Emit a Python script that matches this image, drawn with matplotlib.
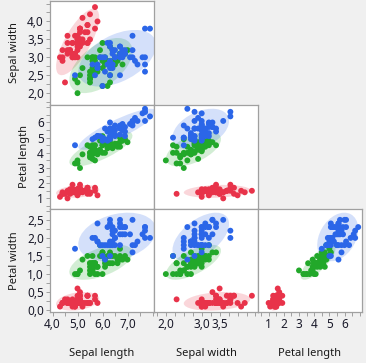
import numpy as np
import matplotlib.pyplot as plt
from matplotlib.patches import Ellipse
from matplotlib.ticker import FuncFormatter, FixedLocator, MultipleLocator

plt.rcParams['font.family'] = ['Noto Sans', 'DejaVu Sans']

# Iris data, 50 rows per species: setosa, versicolor, virginica
sepal_length = [
    5.1, 4.9, 4.7, 4.6, 5.0, 5.4, 4.6, 5.0, 4.4, 4.9, 5.4, 4.8, 4.8, 4.3, 5.8, 5.7, 5.4, 5.1, 5.7, 5.1, 5.4, 5.1, 4.6, 5.1, 4.8,
    5.0, 5.0, 5.2, 5.2, 4.7, 4.8, 5.4, 5.2, 5.5, 4.9, 5.0, 5.5, 4.9, 4.4, 5.1, 5.0, 4.5, 4.4, 5.0, 5.1, 4.8, 5.1, 4.6, 5.3, 5.0,
    7.0, 6.4, 6.9, 5.5, 6.5, 5.7, 6.3, 4.9, 6.6, 5.2, 5.0, 5.9, 6.0, 6.1, 5.6, 6.7, 5.6, 5.8, 6.2, 5.6, 5.9, 6.1, 6.3, 6.1, 6.4,
    6.6, 6.8, 6.7, 6.0, 5.7, 5.5, 5.5, 5.8, 6.0, 5.4, 6.0, 6.7, 6.3, 5.6, 5.5, 5.5, 6.1, 5.8, 5.0, 5.6, 5.7, 5.7, 6.2, 5.1, 5.7,
    6.3, 5.8, 7.1, 6.3, 6.5, 7.6, 4.9, 7.3, 6.7, 7.2, 6.5, 6.4, 6.8, 5.7, 5.8, 6.4, 6.5, 7.7, 7.7, 6.0, 6.9, 5.6, 7.7, 6.3, 6.7,
    7.2, 6.2, 6.1, 6.4, 7.2, 7.4, 7.9, 6.4, 6.3, 6.1, 7.7, 6.3, 6.4, 6.0, 6.9, 6.7, 6.9, 5.8, 6.8, 6.7, 6.7, 6.3, 6.5, 6.2, 5.9]
sepal_width = [
    3.5, 3.0, 3.2, 3.1, 3.6, 3.9, 3.4, 3.4, 2.9, 3.1, 3.7, 3.4, 3.0, 3.0, 4.0, 4.4, 3.9, 3.5, 3.8, 3.8, 3.4, 3.7, 3.6, 3.3, 3.4,
    3.0, 3.4, 3.5, 3.4, 3.2, 3.1, 3.4, 4.1, 4.2, 3.1, 3.2, 3.5, 3.6, 3.0, 3.4, 3.5, 2.3, 3.2, 3.5, 3.8, 3.0, 3.8, 3.2, 3.7, 3.3,
    3.2, 3.2, 3.1, 2.3, 2.8, 2.8, 3.3, 2.4, 2.9, 2.7, 2.0, 3.0, 2.2, 2.9, 2.9, 3.1, 3.0, 2.7, 2.2, 2.5, 3.2, 2.8, 2.5, 2.8, 2.9,
    3.0, 2.8, 3.0, 2.9, 2.6, 2.4, 2.4, 2.7, 2.7, 3.0, 3.4, 3.1, 2.3, 3.0, 2.5, 2.6, 3.0, 2.6, 2.3, 2.7, 3.0, 2.9, 2.9, 2.5, 2.8,
    3.3, 2.7, 3.0, 2.9, 3.0, 3.0, 2.5, 2.9, 2.5, 3.6, 3.2, 2.7, 3.0, 2.5, 2.8, 3.2, 3.0, 3.8, 2.6, 2.2, 3.2, 2.8, 2.8, 2.7, 3.3,
    3.2, 2.8, 3.0, 2.8, 3.0, 2.8, 3.8, 2.8, 2.8, 2.6, 3.0, 3.4, 3.1, 3.0, 3.1, 3.1, 3.1, 2.7, 3.2, 3.3, 3.0, 2.5, 3.0, 3.4, 3.0]
petal_length = [
    1.4, 1.4, 1.3, 1.5, 1.4, 1.7, 1.4, 1.5, 1.4, 1.5, 1.5, 1.6, 1.4, 1.1, 1.2, 1.5, 1.3, 1.4, 1.7, 1.5, 1.7, 1.5, 1.0, 1.7, 1.9,
    1.6, 1.6, 1.5, 1.4, 1.6, 1.6, 1.5, 1.5, 1.4, 1.5, 1.2, 1.3, 1.4, 1.3, 1.5, 1.3, 1.3, 1.3, 1.6, 1.9, 1.4, 1.6, 1.4, 1.5, 1.4,
    4.7, 4.5, 4.9, 4.0, 4.6, 4.5, 4.7, 3.3, 4.6, 3.9, 3.5, 4.2, 4.0, 4.7, 3.6, 4.4, 4.5, 4.1, 4.5, 3.9, 4.8, 4.0, 4.9, 4.7, 4.3,
    4.4, 4.8, 5.0, 4.5, 3.5, 3.8, 3.7, 3.9, 5.1, 4.5, 4.5, 4.7, 4.4, 4.1, 4.0, 4.4, 4.6, 4.0, 3.3, 4.2, 4.2, 4.2, 4.3, 3.0, 4.1,
    6.0, 5.1, 5.9, 5.6, 5.8, 6.6, 4.5, 6.3, 5.8, 6.1, 5.1, 5.3, 5.5, 5.0, 5.1, 5.3, 5.5, 6.7, 6.9, 5.0, 5.7, 4.9, 6.7, 4.9, 5.7,
    6.0, 4.8, 4.9, 5.6, 5.8, 6.1, 6.4, 5.6, 5.1, 5.6, 6.1, 5.6, 5.5, 4.8, 5.4, 5.6, 5.1, 5.1, 5.9, 5.7, 5.2, 5.0, 5.2, 5.4, 5.1]
petal_width = [
    0.2, 0.2, 0.2, 0.2, 0.2, 0.4, 0.3, 0.2, 0.2, 0.1, 0.2, 0.2, 0.1, 0.1, 0.2, 0.4, 0.4, 0.3, 0.3, 0.3, 0.2, 0.4, 0.2, 0.5, 0.2,
    0.2, 0.4, 0.2, 0.2, 0.2, 0.2, 0.4, 0.1, 0.2, 0.2, 0.2, 0.2, 0.1, 0.2, 0.2, 0.3, 0.3, 0.2, 0.6, 0.4, 0.3, 0.2, 0.2, 0.2, 0.2,
    1.4, 1.5, 1.5, 1.3, 1.5, 1.3, 1.6, 1.0, 1.3, 1.4, 1.0, 1.5, 1.0, 1.4, 1.3, 1.4, 1.5, 1.0, 1.5, 1.1, 1.8, 1.3, 1.5, 1.2, 1.3,
    1.4, 1.4, 1.7, 1.5, 1.0, 1.1, 1.0, 1.2, 1.6, 1.5, 1.6, 1.5, 1.3, 1.3, 1.3, 1.2, 1.4, 1.2, 1.0, 1.3, 1.2, 1.3, 1.3, 1.1, 1.3,
    2.5, 1.9, 2.1, 1.8, 2.2, 2.1, 1.7, 1.8, 1.8, 2.5, 2.0, 1.9, 2.1, 2.0, 2.4, 2.3, 1.8, 2.2, 2.3, 1.5, 2.3, 2.0, 2.0, 1.8, 2.1,
    1.8, 1.8, 1.8, 2.1, 1.6, 1.9, 2.0, 2.2, 1.5, 1.4, 2.3, 2.4, 1.8, 1.8, 2.1, 2.4, 2.3, 1.9, 2.3, 2.5, 2.3, 1.9, 2.0, 2.3, 1.8]
species = ['Setosa'] * 50 + ['Versicolor'] * 50 + ['Virginica'] * 50

species_names = ['Setosa', 'Versicolor', 'Virginica']
colors = ['#e8334a', '#22a82a', '#2b66e8']

var_names = ['Sepal length', 'Sepal width', 'Petal length', 'Petal width']
var_data = [sepal_length, sepal_width, petal_length, petal_width]
var_lims = [(3.9, 8.06), (1.67, 4.57), (0.3, 7.15), (-0.05, 2.8)]
var_ticks = [[4.0, 5.0, 6.0, 7.0], [2.0, 2.5, 3.0, 3.5, 4.0], [1, 2, 3, 4, 5, 6], [0.0, 0.5, 1.0, 1.5, 2.0, 2.5]]
x_ticks = [[4.0, 5.0, 6.0, 7.0], [2.0, 3.0, 3.5], [1, 2, 3, 4, 5, 6]]
minor_step = [0.5, 0.25, 0.5, 0.25]
decimals = [1, 1, 0, 1]

W, H = 366, 363
fig = plt.figure(figsize=(W / 100, H / 100), dpi=100, facecolor='#f0f0f0')

col_left = [50, 154, 258]
col_w = 104
row_top = [1, 105, 209]
row_h = [104, 104, 103]

sp = np.array(species)
chi2_95 = 5.991


def fmt(d):
    return FuncFormatter(lambda v, p: (f'{v:.{d}f}').replace('.', ','))


def add_ellipse(ax, x, y, color):
    x = np.asarray(x)
    y = np.asarray(y)
    cov = np.cov(x, y)
    vals, vecs = np.linalg.eigh(cov)
    order = vals.argsort()[::-1]
    vals, vecs = vals[order], vecs[:, order]
    angle = np.degrees(np.arctan2(vecs[1, 0], vecs[0, 0]))
    w, h = 2 * np.sqrt(chi2_95 * vals)
    ax.add_patch(Ellipse((x.mean(), y.mean()), w, h, angle=angle,
                         facecolor=color, alpha=0.2, edgecolor='none', zorder=1))


for r in range(3):
    yi = r + 1
    for c in range(r + 1):
        xi = c
        ax = fig.add_axes([col_left[c] / W, 1 - (row_top[r] + row_h[r]) / H,
                           col_w / W, row_h[r] / H])
        ax.set_facecolor('white')
        for name, col in zip(species_names, colors):
            m = sp == name
            xs = np.array(var_data[xi])[m]
            ys = np.array(var_data[yi])[m]
            add_ellipse(ax, xs, ys, col)
        for name, col in zip(species_names, colors):
            m = sp == name
            xs = np.array(var_data[xi])[m]
            ys = np.array(var_data[yi])[m]
            ax.scatter(xs, ys, s=18, color=col, edgecolors='none', zorder=3)
        ax.set_xlim(var_lims[xi])
        ax.set_ylim(var_lims[yi])
        for s in ax.spines.values():
            s.set_color('#a0a0a0')
            s.set_linewidth(0.9)
        ax.tick_params(which='both', direction='out', length=3, width=0.7,
                       color='#a0a0a0', labelsize=8.5, labelcolor='#1a1a2a', pad=1.5)
        ax.xaxis.set_minor_locator(MultipleLocator(minor_step[xi]))
        ax.yaxis.set_minor_locator(MultipleLocator(minor_step[yi]))
        ax.xaxis.set_major_locator(FixedLocator(x_ticks[xi]))
        ax.yaxis.set_major_locator(FixedLocator(var_ticks[yi]))
        ax.xaxis.set_major_formatter(fmt(decimals[xi]))
        ax.yaxis.set_major_formatter(fmt(decimals[yi]))
        if c != 0:
            ax.tick_params(axis='y', which='both', left=False, labelleft=False)
        else:
            ax.set_ylabel(var_names[yi], fontsize=8, color='#1a1a1a', labelpad=5)
        if r != 2:
            ax.tick_params(axis='x', which='both', bottom=False, labelbottom=False)
        else:
            ax.set_xlabel(var_names[xi], fontsize=8, color='#1a1a1a', labelpad=12)

fig.savefig('out.png', dpi=100, facecolor=fig.get_facecolor())
